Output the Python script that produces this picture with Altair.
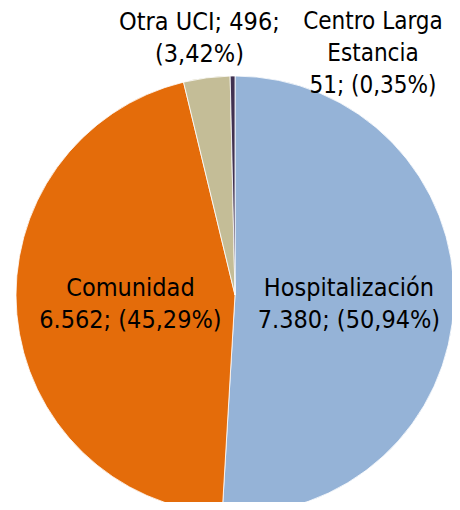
import altair as alt
import pandas as pd

categories = ["Hospitalización", "Comunidad", "Otra UCI", "Centro Larga Estancia"]
values = [7380, 6562, 496, 51]
labels = [
    "Hospitalización\n7.380; (50,94%)",
    "Comunidad\n6.562; (45,29%)",
    "Otra UCI; 496;\n(3,42%)",
    "Centro Larga\nEstancia\n51; (0,35%)",
]
colors = ["#95B3D7", "#E46C0A", "#C4BD97", "#403151"]

df = pd.DataFrame({
    "cat": categories,
    "value": values,
    "label": labels,
    "ord": list(range(len(categories))),
})

CX, CY, R = 227, 287, 219
FONT = "DejaVu Sans Condensed, sans-serif"

base = alt.Chart(df).encode(
    theta=alt.Theta("value:Q", stack=True),
    order=alt.Order("ord:Q"),
    x=alt.value(CX),
    y=alt.value(CY),
)

pie = base.mark_arc(outerRadius=R, stroke="white", strokeWidth=0.8).encode(
    color=alt.Color("cat:N", scale=alt.Scale(domain=categories, range=colors), legend=None)
)

def lab(cat, radius, dx=0, dy=0, size=25):
    return base.transform_calculate(
        t=f"datum.cat === '{cat}' ? datum.label : ''"
    ).mark_text(
        font=FONT, fontSize=size, lineHeight=32, align="center",
        baseline="middle", color="black", lineBreak="\n", dx=dx, dy=dy,
    ).encode(text="t:N", radius=alt.value(radius))

chart = alt.layer(
    pie,
    lab("Hospitalización", 114, dy=-10),
    lab("Comunidad", 105, dy=-16),
    lab("Otra UCI", 275),
    lab("Centro Larga Estancia", 273, dx=141, size=24),
).properties(width=444, height=494, padding=0, autosize="none").configure_view(stroke=None)

chart.save("out.html", embed_options={"renderer": "svg", "actions": False})
